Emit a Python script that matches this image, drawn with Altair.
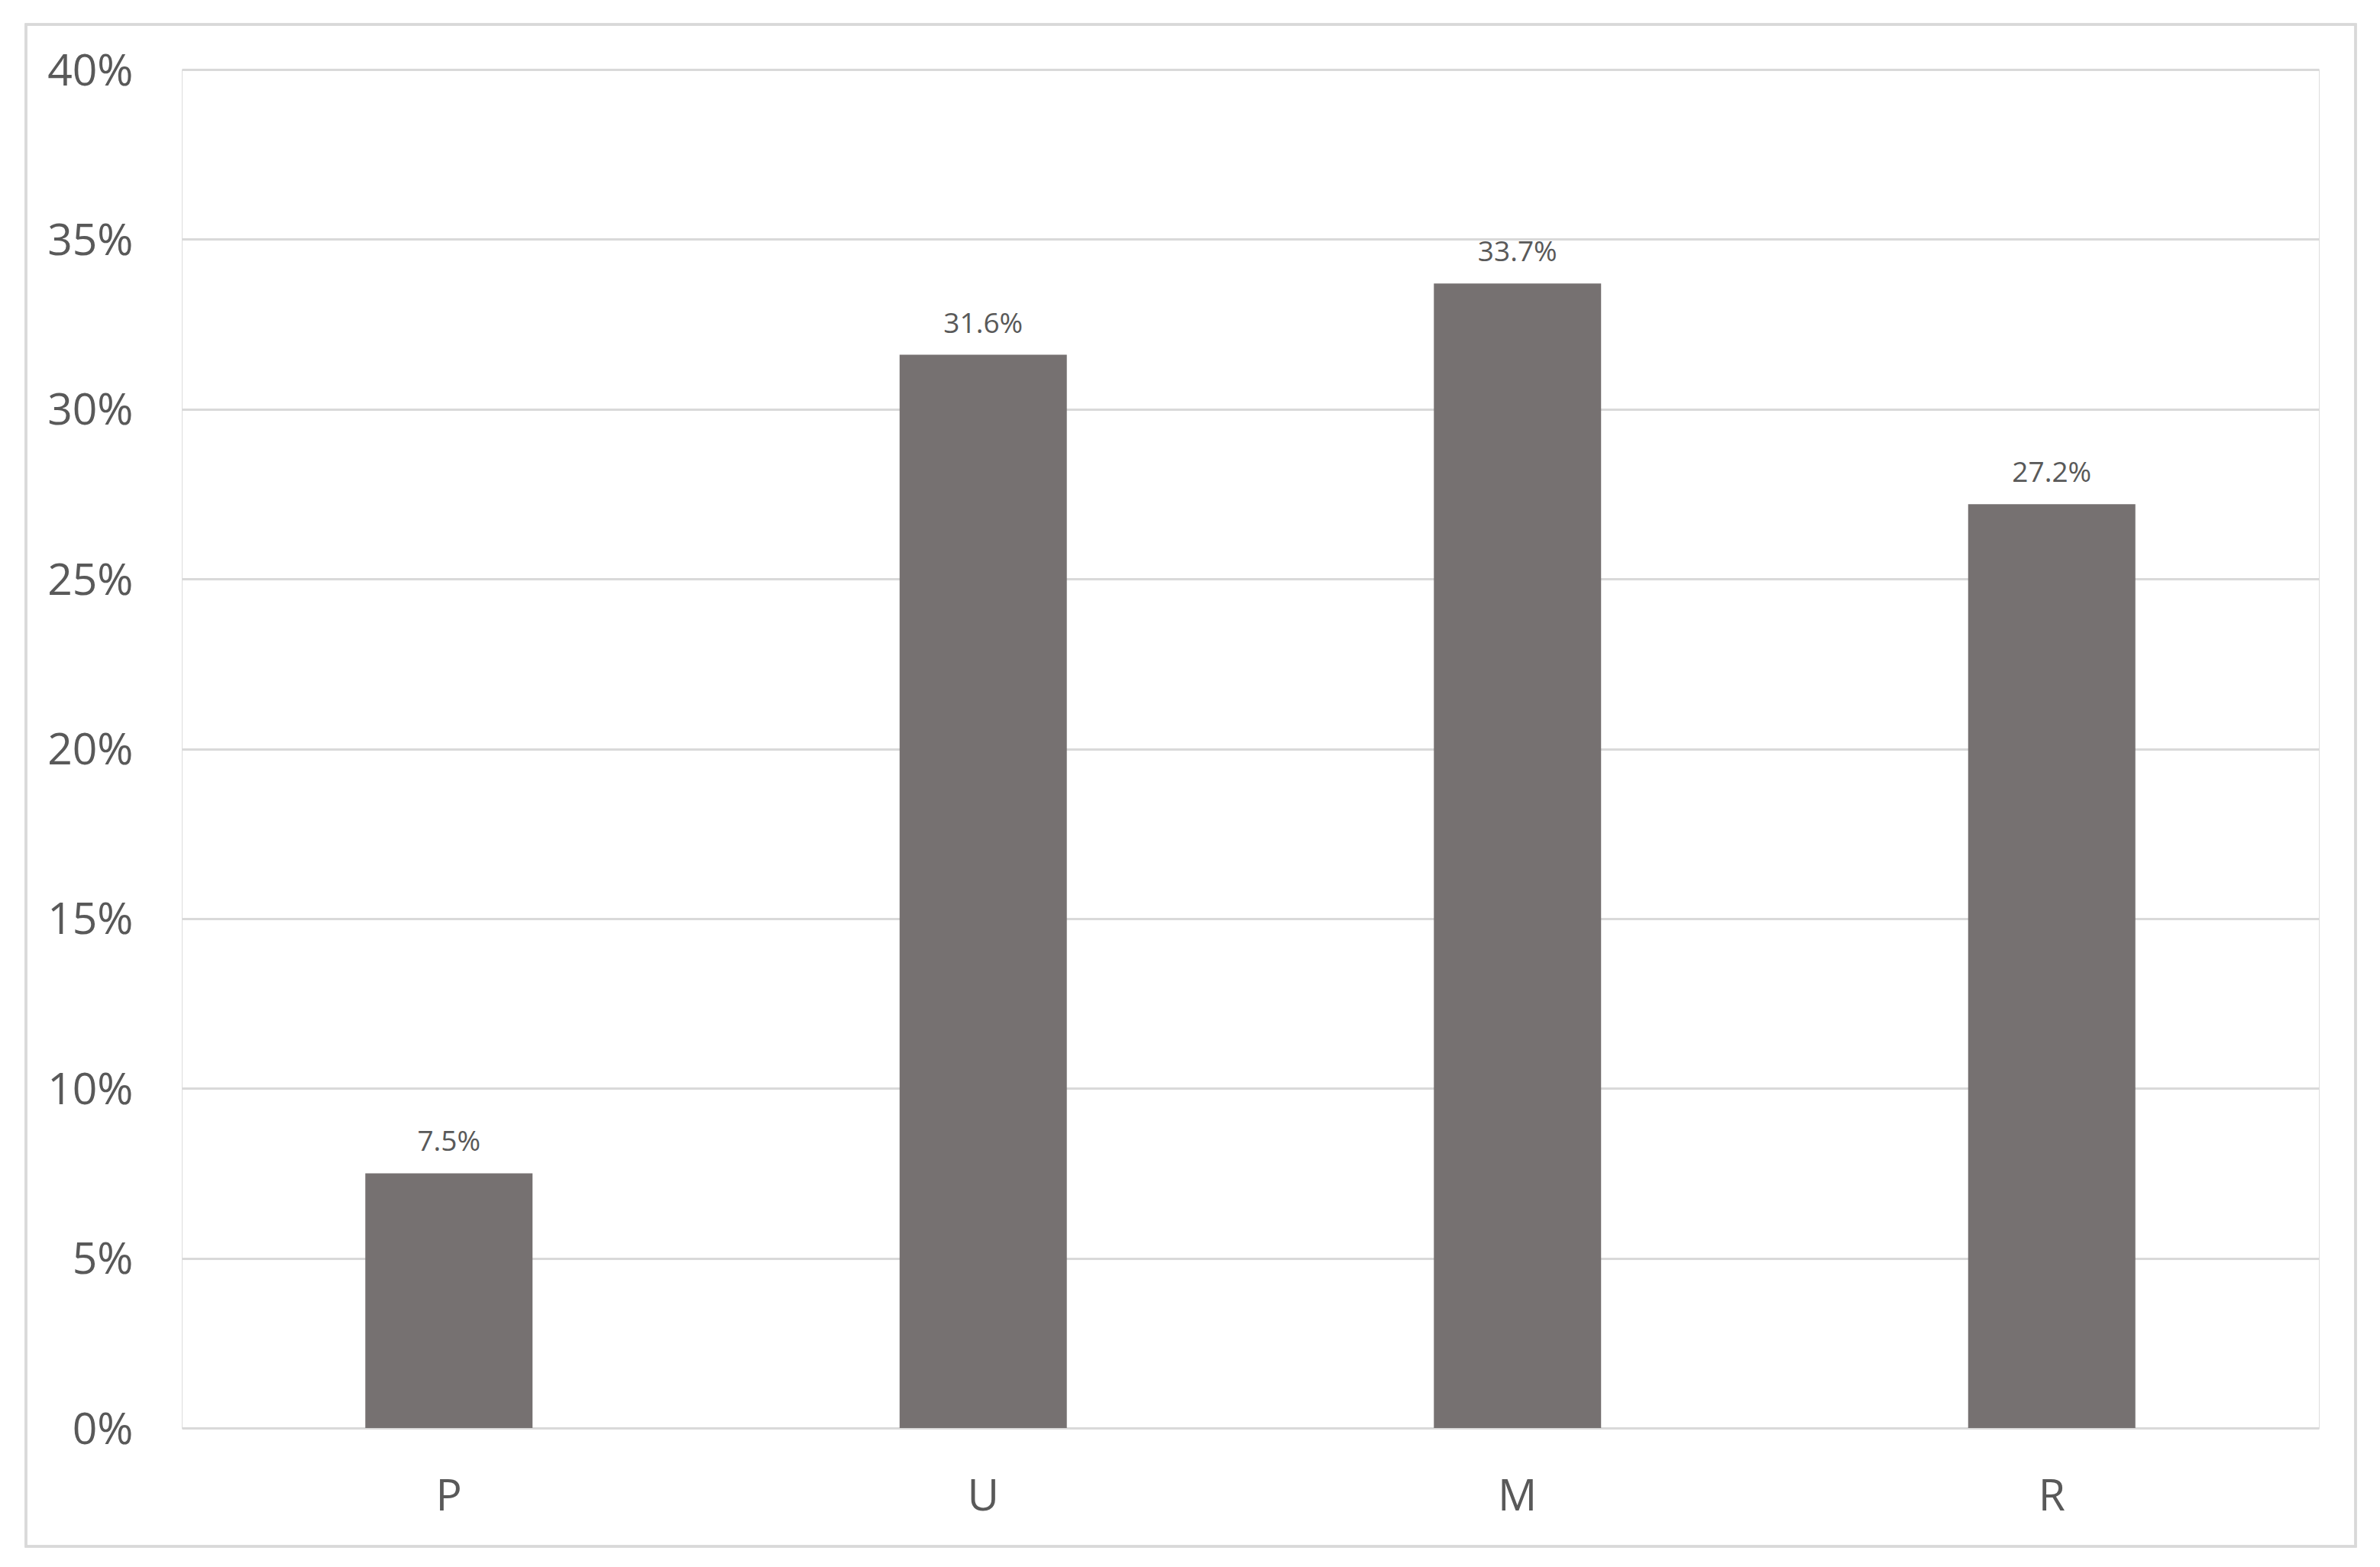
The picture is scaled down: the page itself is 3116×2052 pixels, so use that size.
import altair as alt
import pandas as pd

categories = ["P", "U", "M", "R"]
values = [0.075, 0.316, 0.337, 0.272]

df = pd.DataFrame({"cat": categories, "val": values})

W, H = 2798, 1779
FONT = "Open Sans"

x_enc = alt.X("cat:N", sort=categories, title=None,
              scale=alt.Scale(paddingInner=0.687, paddingOuter=0.3435),
              axis=alt.Axis(labelAngle=0, labelFont=FONT, labelFontSize=57,
                            labelColor="#595959", labelPadding=62, ticks=False,
                            domain=False, grid=False))
y_enc = alt.Y("val:Q", title=None,
              scale=alt.Scale(domain=[0, 0.4], nice=False),
              axis=alt.Axis(format=".0%", values=[0, 0.05, 0.1, 0.15, 0.2, 0.25, 0.3, 0.35, 0.4],
                            labelFont=FONT, labelFontSize=57, labelColor="#595959",
                            labelPadding=64, labelOffset=3, ticks=False, domain=False,
                            grid=True, gridColor="#d9d9d9", gridWidth=3))

border = alt.Chart(df).mark_rect(fill="transparent", stroke="#d9d9d9", strokeWidth=3, clip=False).encode(
    x=alt.value(-204), x2=alt.value(2846), y=alt.value(-59), y2=alt.value(1934)
)

bars = alt.Chart(df).mark_bar(color="#767171").encode(x=x_enc, y=y_enc)

labels = alt.Chart(df).mark_text(baseline="bottom", dy=-21, font=FONT, fontSize=37,
                                 color="#595959").encode(
    x=alt.X("cat:N", sort=categories),
    y=alt.Y("val:Q"),
    text=alt.Text("val:Q", format=".1%"),
)

chart = alt.layer(border, bars, labels).properties(
    width=W, height=H,
    autosize=alt.AutoSizeParams(type="none"),
    padding={"left": 230, "top": 83, "right": 64, "bottom": 170},
).configure_view(strokeWidth=0, strokeOpacity=0, stroke="transparent").configure_axis(
    domain=False
).configure_axisX(grid=False).configure(background="white")

chart.save("out.html", embed_options={"renderer": "svg", "actions": False})
